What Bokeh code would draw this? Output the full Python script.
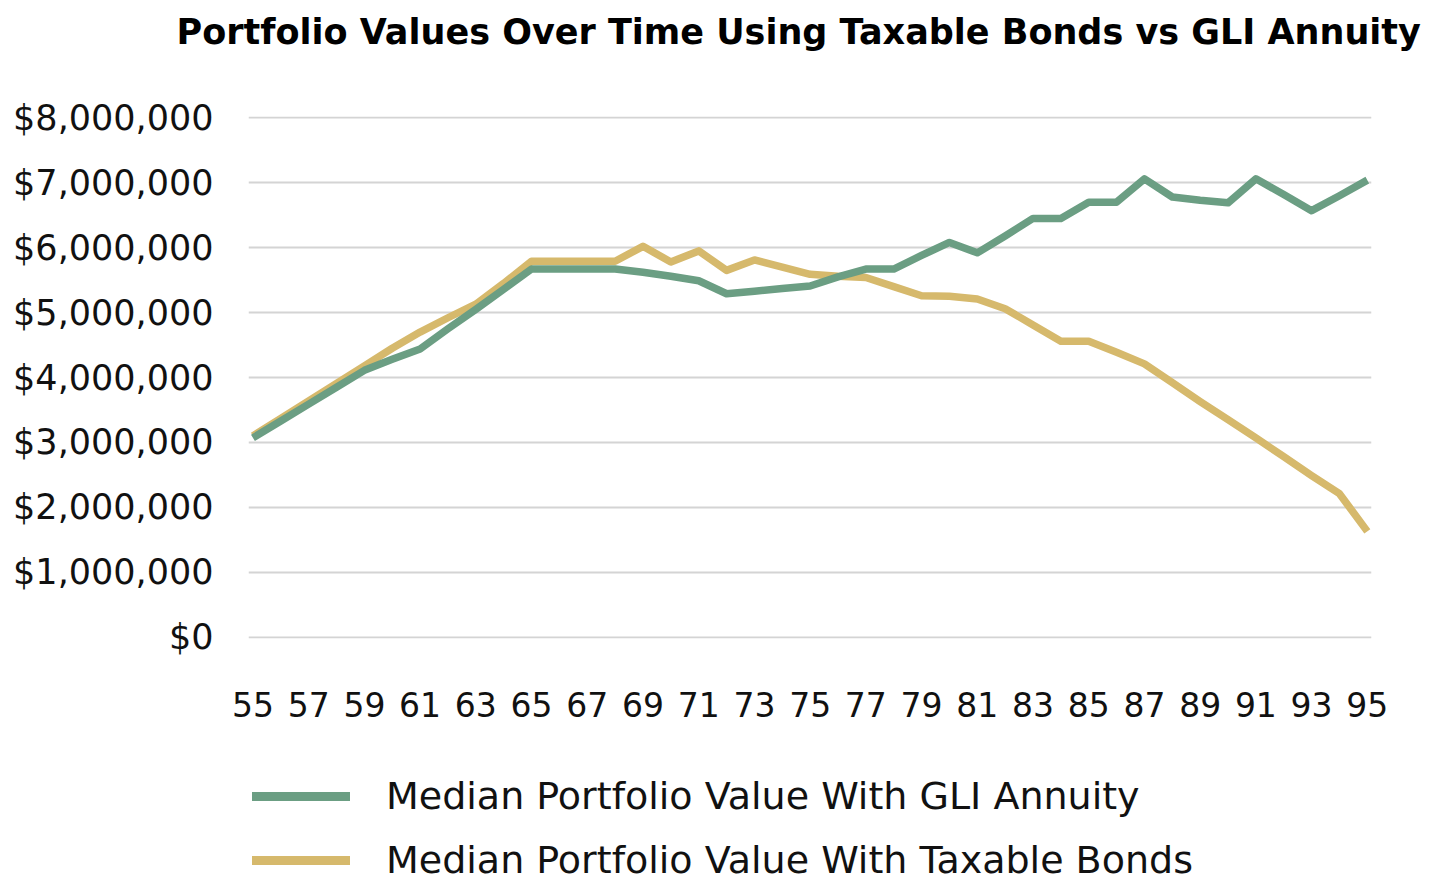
from bokeh.plotting import figure
from bokeh.models import (ColumnDataSource, NumeralTickFormatter, FixedTicker,
                          Legend, LegendItem, Title, Range1d)
from bokeh.layouts import column
from bokeh.embed import file_html
from bokeh.resources import INLINE

ages = list(range(55, 96))
gli_annuity = [
    3_070_000, 3_330_000, 3_590_000, 3_850_000, 4_110_000, 4_280_000, 4_440_000,
    4_750_000, 5_050_000, 5_360_000, 5_670_000, 5_670_000, 5_670_000, 5_670_000,
    5_620_000, 5_560_000, 5_490_000, 5_290_000, 5_330_000, 5_370_000, 5_410_000,
    5_550_000, 5_670_000, 5_670_000, 5_880_000, 6_080_000, 5_920_000, 6_180_000,
    6_450_000, 6_450_000, 6_700_000, 6_700_000, 7_060_000, 6_780_000, 6_730_000,
    6_690_000, 7_060_000, 6_820_000, 6_570_000, 6_800_000, 7_040_000,
]
taxable_bonds = [
    3_100_000, 3_370_000, 3_640_000, 3_910_000, 4_180_000, 4_450_000, 4_700_000,
    4_920_000, 5_130_000, 5_450_000, 5_790_000, 5_790_000, 5_790_000, 5_790_000,
    6_020_000, 5_780_000, 5_950_000, 5_650_000, 5_810_000, 5_700_000, 5_590_000,
    5_560_000, 5_540_000, 5_400_000, 5_260_000, 5_250_000, 5_210_000, 5_060_000,
    4_810_000, 4_560_000, 4_560_000, 4_390_000, 4_210_000, 3_920_000, 3_630_000,
    3_350_000, 3_070_000, 2_780_000, 2_490_000, 2_210_000, 1_630_000,
]
x_ticks = list(range(55, 96, 2))
y_ticks = [0, 1_000_000, 2_000_000, 3_000_000, 4_000_000, 5_000_000,
           6_000_000, 7_000_000, 8_000_000]

title_text = "Portfolio Values Over Time Using Taxable Bonds vs GLI Annuity"
label_gli = "Median Portfolio Value With GLI Annuity"
label_tax = "Median Portfolio Value With Taxable Bonds"

GREEN = "#6b9e83"
GOLD = "#d6b96c"
FONT = "DejaVu Sans"
W = 1456
BL, BR = 248, 85   # shared left/right borders (frames are aligned in the column)


def blank_fig(h):
    f = figure(width=W, height=h, output_backend="svg", toolbar_location=None,
               x_range=Range1d(0, 1), y_range=Range1d(0, 1),
               x_axis_location=None, y_axis_location=None,
               min_border_left=BL, min_border_right=BR, min_border_top=0,
               min_border_bottom=0)
    f.outline_line_color = None
    f.xgrid.visible = False
    f.ygrid.visible = False
    f.border_fill_color = "white"
    f.background_fill_color = "white"
    return f


src = ColumnDataSource(dict(age=ages, gli=gli_annuity, tax=taxable_bonds))

# ---- header with the title ----
head = blank_fig(70)
head.add_layout(Title(text=title_text, align="left", offset=-72, standoff=18,
                      text_font=FONT, text_font_size="35px",
                      text_font_style="bold", text_color="#000000"), "above")

# ---- main chart ----
p = figure(width=W, height=670, output_backend="svg", toolbar_location=None,
           x_range=Range1d(54.84, 95.15), y_range=Range1d(-20_000, 8_020_000),
           min_border_left=BL, min_border_right=BR, min_border_top=46,
           min_border_bottom=102)
p.outline_line_color = None
p.background_fill_color = "white"
p.border_fill_color = "white"

p.line("age", "tax", source=src, line_color=GOLD, line_width=7.5, line_join="round")
p.line("age", "gli", source=src, line_color=GREEN, line_width=7.5, line_join="round")

p.xaxis.ticker = FixedTicker(ticks=x_ticks)
p.yaxis.ticker = FixedTicker(ticks=y_ticks)
p.yaxis.formatter = NumeralTickFormatter(format="$0,0")

for ax in (p.xaxis, p.yaxis):
    ax.axis_line_color = None
    ax.major_tick_line_color = None
    ax.minor_tick_line_color = None
    ax.major_label_text_font = FONT
    ax.major_label_text_color = "#111111"
p.yaxis.major_label_text_font_size = "35px"
p.xaxis.major_label_text_font_size = "33px"
p.yaxis.major_label_standoff = 29
p.xaxis.major_label_standoff = 47

p.xgrid.grid_line_color = None
p.ygrid.grid_line_color = "#d4d4d4"
p.ygrid.grid_line_width = 2

# ---- legend strip (series redrawn off-range here, only their legend swatches show) ----
lf = blank_fig(152)
lg_gli = lf.line("age", "gli", source=src, line_color=GREEN, line_width=9, line_cap="round")
lg_tax = lf.line("age", "tax", source=src, line_color=GOLD, line_width=9, line_cap="round")
legend = Legend(items=[LegendItem(label=label_gli, renderers=[lg_gli]),
                       LegendItem(label=label_tax, renderers=[lg_tax])],
                location=(4, 10), orientation="vertical",
                label_text_font=FONT, label_text_font_size="38px",
                label_text_color="#111111", glyph_width=98, glyph_height=44,
                label_height=44, spacing=20, label_standoff=36, padding=0,
                margin=0, border_line_color=None, background_fill_alpha=0)
lf.add_layout(legend, "center")

layout = column(head, p, lf, spacing=0)
open("out.html", "w").write(file_html(layout, INLINE))
